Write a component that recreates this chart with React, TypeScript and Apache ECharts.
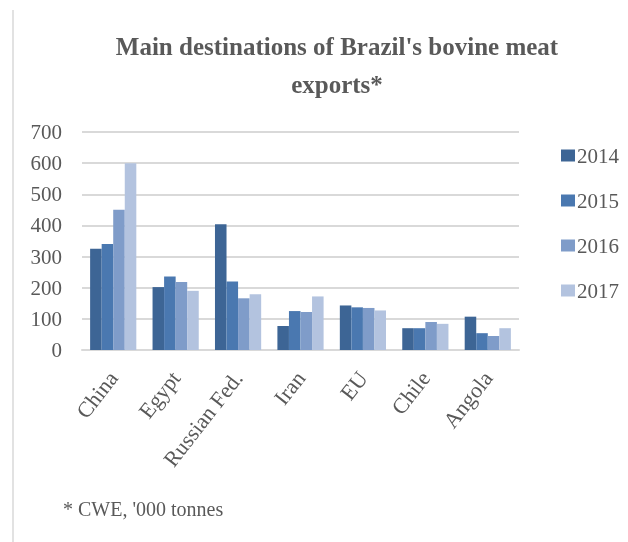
import React, { useEffect, useRef } from "react";
import * as echarts from "echarts";

const categories = ["China", "Egypt", "Russian Fed.", "Iran", "EU", "Chile", "Angola"];
const years = ["2014", "2015", "2016", "2017"];
const v2014 = [325, 202, 404, 77, 143, 70, 107];
const v2015 = [340, 236, 220, 125, 137, 70, 54];
const v2016 = [450, 218, 166, 122, 135, 90, 45];
const v2017 = [600, 190, 179, 172, 127, 84, 70];
const yTicks = [0, 100, 200, 300, 400, 500, 600, 700];
const colors = ["#3d6595", "#4a78b0", "#7f9cc9", "#b3c3df"];

export default function App() {
  const ref = useRef<HTMLDivElement>(null);
  useEffect(() => {
    if (!ref.current) return;
    const chart = echarts.init(ref.current, null, { renderer: "svg" });
    const font = "'Liberation Serif', 'Times New Roman', serif";
    const seriesData = [v2014, v2015, v2016, v2017];
    chart.setOption({
      animation: false,
      textStyle: { fontFamily: font },
      title: {
        text: "Main destinations of Brazil's bovine meat\nexports*",
        left: 332,
        top: 22,
        textAlign: "center",
        textStyle: {
          fontFamily: font,
          fontWeight: "bold",
          fontSize: 25,
          color: "#595959",
          lineHeight: 38,
        },
      },
      legend: {
        orient: "vertical",
        left: 561,
        top: 145,
        padding: 0,
        itemGap: 24,
        itemWidth: 14,
        itemHeight: 12,
        icon: "rect",
        textStyle: {
          fontFamily: font,
          fontSize: 21,
          lineHeight: 21,
          color: "#595959",
          padding: [0, 0, 0, -3],
        },
        data: years,
      },
      grid: { left: 82, right: 109, top: 132, bottom: 192, containLabel: false },
      xAxis: {
        type: "category",
        data: categories,
        axisTick: { show: false },
        axisLine: { lineStyle: { color: "#d9d9d9", width: 2 } },
        axisLabel: {
          rotate: 52,
          fontFamily: font,
          fontSize: 22,
          color: "#595959",
          margin: 24,
          interval: 0,
        },
      },
      yAxis: {
        type: "value",
        min: 0,
        max: 700,
        interval: 100,
        axisLine: { show: false },
        axisTick: { show: false },
        splitLine: { lineStyle: { color: "#d9d9d9", width: 2 } },
        axisLabel: {
          fontFamily: font,
          fontSize: 21,
          color: "#595959",
          margin: 20,
          formatter: (v: number) => (yTicks.includes(v) ? String(v) : ""),
        },
      },
      series: years.map((y, i) => ({
        name: y,
        type: "bar",
        data: seriesData[i],
        barGap: "0%",
        barCategoryGap: "26%",
        itemStyle: { color: colors[i] },
      })),
      graphic: [
        {
          type: "line",
          shape: { x1: 13, y1: 10, x2: 13, y2: 542 },
          style: { stroke: "#d9d9d9", lineWidth: 1.5 },
        },
        {
          type: "text",
          left: 63,
          top: 499,
          style: {
            text: "* CWE, '000 tonnes",
            fontFamily: font,
            fontSize: 20,
            fill: "#595959",
          },
        },
      ],
    });
    return () => chart.dispose();
  }, []);
  return (
    <div
      ref={ref}
      style={{ position: "fixed", left: 0, top: 0, width: 628, height: 542 }}
    />
  );
}
